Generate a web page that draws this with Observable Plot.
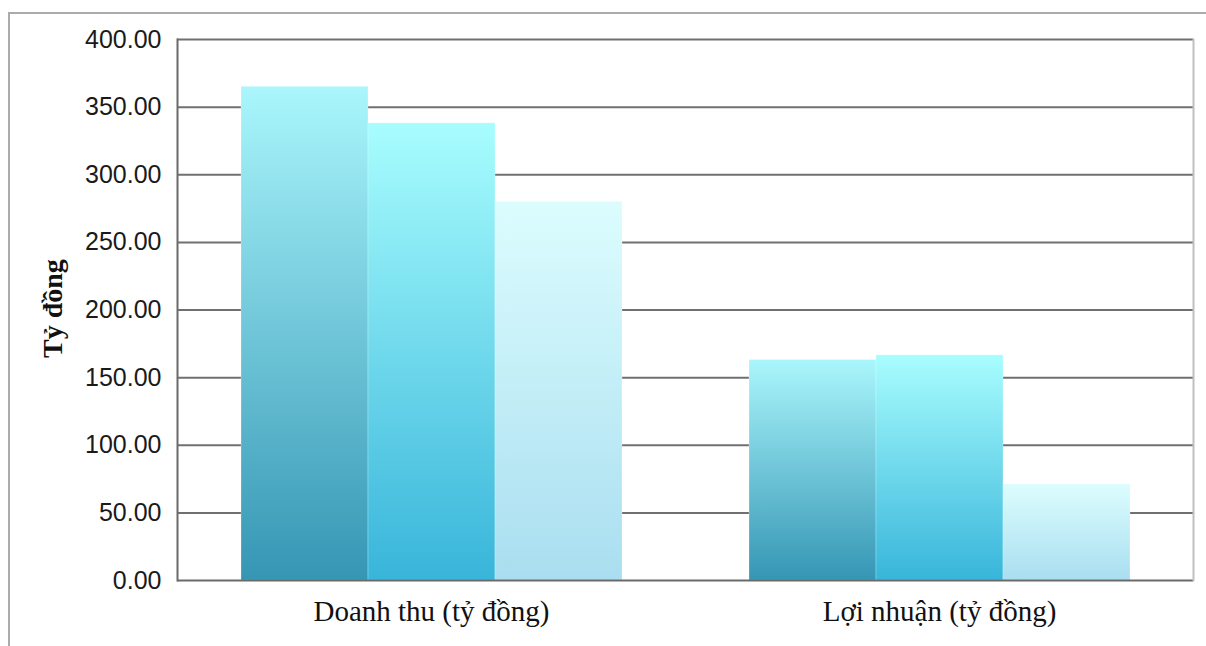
<!DOCTYPE html>
<html>
<head>
<meta charset="utf-8">
<script src="https://cdn.jsdelivr.net/npm/d3@7"></script>
<script src="https://cdn.jsdelivr.net/npm/@observablehq/plot@0.6"></script>
<style>
  html, body { margin: 0; padding: 0; background: #fff; }
  #wrap { position: relative; width: 1206px; height: 646px; overflow: hidden; }
  #border { position: absolute; left: 8px; top: 12px; right: -20px; bottom: -20px;
            border-left: 2px solid #ababab; border-top: 2px solid #ababab; pointer-events: none; }
</style>
</head>
<body>
<div id="wrap"><div id="border"></div></div>
<script>
// ---- data ----
const categories = ["Doanh thu (tỷ đồng)", "Lợi nhuận (tỷ đồng)"];
const series = ["Chuỗi 1", "Chuỗi 2", "Chuỗi 3"];
const doanhThu = [365, 338, 280];
const loiNhuan = [163, 166.5, 71];
const yTicks = [0, 50, 100, 150, 200, 250, 300, 350, 400];
const yTitle = "Tỷ đồng";

// gradient colours per series (top, bottom)
const gradients = [
  ["#aaf6fc", "#3596b4"],
  ["#a8fdfe", "#38b5da"],
  ["#dcfdfe", "#a9def0"]
];

const rows = [];
series.forEach((s, i) => {
  rows.push({category: categories[0], series: s, value: doanhThu[i]});
  rows.push({category: categories[1], series: s, value: loiNhuan[i]});
});

const barMarks = series.map((s, i) =>
  Plot.barY(rows.filter(d => d.series === s), {
    fx: "category", x: "series", y: "value",
    fill: `url(#grad${i})`, stroke: "#ffffff", strokeOpacity: 0.25, strokeWidth: 1
  })
);

const chart = Plot.plot({
  width: 1206,
  height: 646,
  marginLeft: 176,
  marginRight: 13,
  marginTop: 39,
  marginBottom: 66,
  style: {background: "transparent", fontFamily: "Liberation Serif"},
  fx: {domain: categories, padding: 0, label: null},
  x: {domain: series, paddingInner: 0, paddingOuter: 0.5, axis: null},
  y: {domain: [0, 400], label: null},
  marks: [
    Plot.ruleY(yTicks.filter(v => v > 0), {stroke: "#707070", strokeWidth: 2}),
    ...barMarks,
    Plot.ruleY([0], {stroke: "#6a6a6a", strokeWidth: 2}),
    Plot.frame({anchor: "left", facetAnchor: "left", stroke: "#6a6a6a", strokeWidth: 2}),
    Plot.frame({anchor: "right", facetAnchor: "right", stroke: "#c0c0c0", strokeWidth: 2}),
    Plot.axisY({ticks: yTicks, tickFormat: d3.format(".2f"), tickSize: 0, tickPadding: 16,
                fontSize: 25, fontFamily: "Liberation Sans", fill: "#1a1a1a", label: null}),
    Plot.axisFx({anchor: "bottom", tickSize: 0, tickPadding: 20, fontSize: 29,
                 fontFamily: "Liberation Serif", fill: "#111", label: null}),
    Plot.text([yTitle], {frameAnchor: "left", facetAnchor: "left", rotate: -90, dx: -124, dy: 48,
                         fontSize: 28, fontWeight: "bold", fontFamily: "Liberation Serif", fill: "#111"})
  ]
});

// gradient definitions used by the bars
const defs = d3.select(chart).insert("defs", ":first-child");
gradients.forEach(([top, bottom], i) => {
  const g = defs.append("linearGradient").attr("id", `grad${i}`)
    .attr("x1", 0).attr("y1", 0).attr("x2", 0).attr("y2", 1);
  g.append("stop").attr("offset", "0%").attr("stop-color", top);
  g.append("stop").attr("offset", "100%").attr("stop-color", bottom);
});

document.getElementById("wrap").appendChild(chart);
</script>
</body>
</html>
